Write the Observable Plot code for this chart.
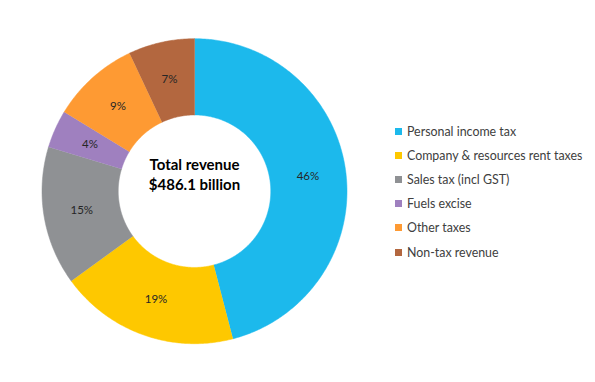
<!DOCTYPE html>
<html><head><meta charset="utf-8">
<script src="https://cdn.jsdelivr.net/npm/d3@7"></script>
<script src="https://cdn.jsdelivr.net/npm/@observablehq/plot@0.6"></script>
<style>
body{margin:0;background:#fff;font-family:Lato,"Open Sans",sans-serif;}
#wrap{position:relative;width:595px;height:382px;}
#legend{position:absolute;left:395px;top:119px;}
.item{display:flex;align-items:center;height:24.2px;font-size:12.4px;color:#404040;white-space:nowrap;}
.sw{width:7px;height:7px;margin-right:5px;flex:none;}
</style></head><body><div id="wrap"></div>
<script>
const categories = ["Personal income tax", "Company & resources rent taxes", "Sales tax (incl GST)", "Fuels excise", "Other taxes", "Non-tax revenue"];
const shares = [45.9, 19.0, 14.7, 4.0, 9.3, 7.0];
const colors = ["#1cb9ec", "#fec800", "#8f9194", "#9f80bf", "#fe9a33", "#b3673f"];
const centerLines = ["Total revenue", "$486.1 billion"];
const innerRatio = 0.5;

const total = d3.sum(shares);
let cum = 0;
const slices = categories.map((name, i) => {
  const a0 = cum / total * 2 * Math.PI;
  cum += shares[i];
  const a1 = cum / total * 2 * Math.PI;
  return {name, value: shares[i], a0, a1, mid: (a0 + a1) / 2};
});
const pts = [];
for (const s of slices) {
  const n = Math.max(2, Math.ceil((s.a1 - s.a0) / 0.01));
  for (let k = 0; k <= n; k++) {
    const a = s.a0 + (s.a1 - s.a0) * k / n;
    pts.push({name: s.name, x: Math.sin(a), y: Math.cos(a)});
  }
  for (let k = n; k >= 0; k--) {
    const a = s.a0 + (s.a1 - s.a0) * k / n;
    pts.push({name: s.name, x: innerRatio * Math.sin(a), y: innerRatio * Math.cos(a)});
  }
}
const labelR = (1 + innerRatio) / 2;
const labels = slices.map(s => ({
  x: labelR * Math.sin(s.mid), y: labelR * Math.cos(s.mid),
  text: Math.round(s.value / total * 100) + "%"
}));
const center = centerLines.map((t, i) => ({text: t, x: 0, y: 0.169 - i * 0.132}));

const chart = Plot.plot({
  width: 595, height: 382,
  marginLeft: 41.5, marginRight: 248.5, marginTop: 38.2, marginBottom: 38.8,
  x: {domain: [-1, 1], axis: null},
  y: {domain: [-1, 1], axis: null},
  color: {domain: categories, range: colors},
  style: {fontFamily: "Lato, 'Open Sans', sans-serif", background: "#fff"},
  marks: [
    Plot.line(pts, {x: "x", y: "y", z: "name", fill: "name", stroke: "name", strokeWidth: 0.5}),
    Plot.text(labels, {x: "x", y: "y", text: "text", fontSize: 11.5, fill: "#262626"}),
    Plot.text(center, {x: "x", y: "y", text: "text", fontSize: 15, fontWeight: "bold", fill: "#000"})
  ]
});
const wrap = document.getElementById("wrap");
wrap.appendChild(chart);
const legend = document.createElement("div");
legend.id = "legend";
categories.forEach((c, i) => {
  const it = document.createElement("div");
  it.className = "item";
  const sw = document.createElement("span");
  sw.className = "sw";
  sw.style.background = colors[i];
  const tx = document.createElement("span");
  tx.textContent = c;
  it.appendChild(sw); it.appendChild(tx);
  legend.appendChild(it);
});
wrap.appendChild(legend);
</script></body></html>
